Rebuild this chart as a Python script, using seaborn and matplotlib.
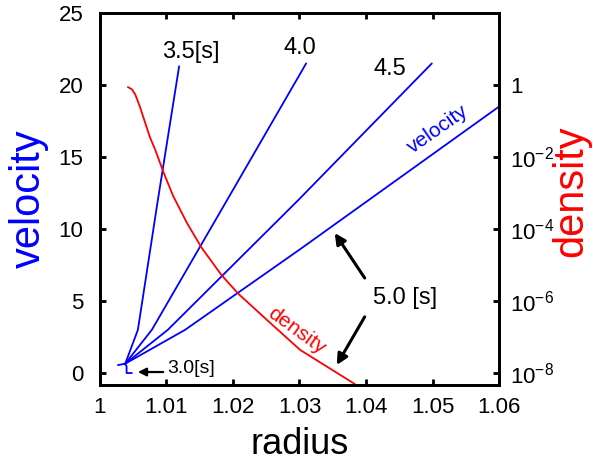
import numpy as np
import pandas as pd
import matplotlib
matplotlib.use("Agg")
import matplotlib.pyplot as plt
import matplotlib.ticker as mtick
import seaborn as sns

# velocity profiles (radius, velocity)
r_30 = [1.0027, 1.0038, 1.0040, 1.0040, 1.0048]
v_30 = [0.55, 0.65, 0.45, 0.0, 0.0]
r_35 = [1.0038, 1.0057, 1.0087, 1.0119]
v_35 = [0.65, 3.0, 12.0, 21.3]
r_40 = [1.0038, 1.0078, 1.0191, 1.0310]
v_40 = [0.65, 3.0, 12.0, 21.5]
r_45 = [1.0038, 1.0102, 1.0298, 1.0499]
v_45 = [0.65, 3.0, 12.0, 21.5]
r_50 = [1.0038, 1.0128, 1.0301, 1.0600]
v_50 = [0.65, 3.0, 8.6, 18.5]

# density profile at 5.0 s
r_den = [1.0042, 1.0048, 1.0053, 1.0060, 1.0075, 1.0083, 1.0095, 1.0110,
         1.0131, 1.0153, 1.0183, 1.0208, 1.0251, 1.0301, 1.0350, 1.0383]
density = [0.88, 0.76, 0.55, 0.25, 0.036, 1.6e-2, 4.0e-3, 8.3e-4,
           1.45e-4, 3.0e-5, 5.2e-6, 1.6e-6, 3.0e-7, 4.4e-8, 1.2e-8, 5.0e-9]

x_ticks = [1.0, 1.01, 1.02, 1.03, 1.04, 1.05, 1.06]
x_labels = ["1", "1.01", "1.02", "1.03", "1.04", "1.05", "1.06"]
v_ticks = [0, 5, 10, 15, 20, 25]
d_ticks = [1, 1e-2, 1e-4, 1e-6, 1e-8]
d_labels = ["1", "10$^{-2}$", "10$^{-4}$", "10$^{-6}$", "10$^{-8}$"]

sns.set_theme(style="ticks")
plt.rcParams['font.family'] = ['Liberation Sans', 'DejaVu Sans']
plt.rcParams['mathtext.fontset'] = 'custom'
plt.rcParams['mathtext.rm'] = 'Liberation Sans'
plt.rcParams['mathtext.default'] = 'regular'
for key in ['text.color', 'axes.labelcolor', 'xtick.color', 'ytick.color', 'axes.edgecolor']:
    plt.rcParams[key] = 'black'

fig = plt.figure(figsize=(5.93, 4.63), dpi=100)
ax = fig.add_axes([0.1686, 0.1685, 0.6729, 0.8034])

blue = "#0000ff"
red = "#ff0000"
for rr, vv in [(r_30, v_30), (r_35, v_35), (r_40, v_40), (r_45, v_45), (r_50, v_50)]:
    df = pd.DataFrame({"radius": rr, "velocity": vv})
    sns.lineplot(data=df, x="radius", y="velocity", ax=ax, color=blue, lw=1.3,
                 sort=False, estimator=None)

ax.set_xlim(1.0, 1.06)
ax.set_ylim(-0.83, 25)
ax.set_xticks(x_ticks)
ax.set_xticklabels(x_labels)
ax.set_yticks(v_ticks)
ax.tick_params(axis="both", direction="in", length=4, width=2, labelsize=16)
ax.tick_params(axis="x", top=True, pad=9)
ax.tick_params(axis="y", pad=12)
ax.set_xlabel("radius", fontsize=26, labelpad=6)
ax.set_ylabel("velocity", fontsize=30, labelpad=7, color=blue)
for s in ax.spines.values():
    s.set_linewidth(2)

ax2 = ax.twinx()
dd = pd.DataFrame({"radius": r_den, "density": density})
sns.lineplot(data=dd, x="radius", y="density", ax=ax2, color=red, lw=1.3,
             sort=False, estimator=None)
ax2.set_yscale("log")
ax2.set_ylim(10 ** -8.33, 100)
ax2.set_yticks(d_ticks)
ax2.set_yticklabels(d_labels)
ax2.yaxis.set_minor_locator(mtick.NullLocator())
ax2.tick_params(axis="y", direction="in", length=4, width=2, labelsize=16, pad=8)
ax2.set_ylabel("density", fontsize=30, color=red)
ax2.yaxis.set_label_coords(1.13, 0.52)
for s in ax2.spines.values():
    s.set_linewidth(2)

# labels on the curves
ax.text(1.0137, 22.3, "3.5[s]", fontsize=17, ha="center", va="center")
ax.text(1.0301, 22.6, "4.0", fontsize=17, ha="center", va="center")
ax.text(1.0436, 21.1, "4.5", fontsize=17, ha="center", va="center")
ax.text(1.0508, 16.9, "velocity", fontsize=15, ha="center", va="center",
        color=blue, rotation=35)
ax.text(1.0296, 2.95, "density", fontsize=15, ha="center", va="center",
        color=red, rotation=-36)
ax.text(1.0458, 5.2, "5.0 [s]", fontsize=17, ha="center", va="center")
ax.text(1.0101, 0.28, "3.0[s]", fontsize=14, ha="left", va="center")

arrow = dict(arrowstyle="-|>", lw=2.2, color="black", mutation_scale=16,
             shrinkA=0, shrinkB=0)
ax.annotate("", xy=(1.0353, 9.72), xytext=(1.0398, 6.6), arrowprops=arrow)
ax.annotate("", xy=(1.0356, 0.56), xytext=(1.0398, 3.9), arrowprops=arrow)
ax.annotate("", xy=(1.0057, 0.07), xytext=(1.0095, 0.07),
            arrowprops=dict(arrowstyle="-|>", lw=1.6, color="black",
                            mutation_scale=12, shrinkA=0, shrinkB=0))

fig.savefig("out.png", dpi=100)
